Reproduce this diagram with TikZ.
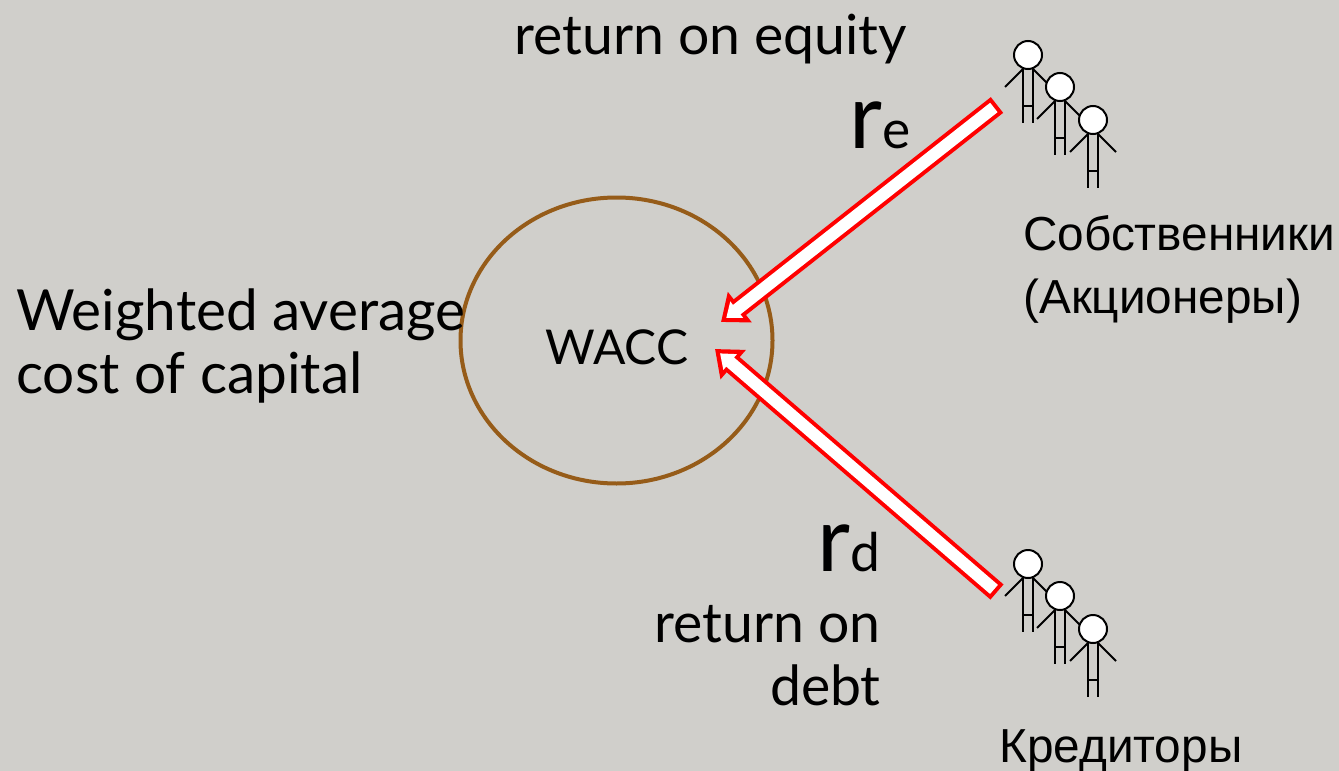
\documentclass[tikz,border=0pt]{standalone}
\usepackage{fontspec}
\setmainfont{Lato}
\newfontfamily\rusfont{Liberation Sans}
\usetikzlibrary{arrows.meta}
\definecolor{paper}{RGB}{208,207,203}
\definecolor{ringbrown}{RGB}{150,92,25}
\tikzset{
  label/.style={inner sep=0pt, font=\fontsize{41.5}{47}\selectfont, align=left},
  rlabel/.style={inner sep=0pt, font=\fontsize{41.5}{47}\selectfont, align=right},
  bigr/.style={inner sep=0pt, anchor=base east, font=\fontsize{68}{68}\selectfont},
  ruslabel/.style={inner sep=0pt, anchor=base west, align=left, font=\rusfont\fontsize{35.8}{47}\selectfont},
  redshaft/.style={draw=red, line width=15pt, -{Triangle[length=18pt, width=28pt]}, red},
  whiteshaft/.style={draw=white, line width=9pt, -{Triangle[length=10pt, width=15pt]}, white, shorten <=3pt, shorten >=5pt},
  stick/.style={line width=1.5pt, black},
  pics/person/.style={code={
    \draw[stick] (-5,14) -- (-23,32);
    \draw[stick] (5,14) -- (23,32);
    \draw[stick] (-5,14) -- (-5,68);
    \draw[stick] (5,14) -- (5,68);
    \draw[stick] (-5,51) -- (5,51);
    \draw[stick, fill=white] (0,0) circle (14);
  }},
  pics/crowd/.style={code={
    \pic at (0,0) {person};
    \pic at (32,32) {person};
    \pic at (65,65) {person};
  }}
}

\begin{document}
\begin{tikzpicture}[x=0.75pt,y=-0.75pt]
  \fill[paper] (0,0) rectangle (1339,771);
  \useasboundingbox (0,0) rectangle (1339,771);

  % ring
  \draw[ringbrown, line width=3pt] (616.5,340.5) ellipse (156 and 143);
  \node[inner sep=0pt, font=\fontsize{36}{40}\selectfont] (wacc) at (617,347) {WACC};

  % owners and lenders
  \pic at (1028,55) {crowd};
  \pic at (1028,564) {crowd};

  \coordinate (equityfrom) at (997,105);
  \coordinate (equityto) at (721,322);
  \coordinate (debtfrom) at (997,592);
  \coordinate (debtto) at (715,349);

  \draw[redshaft] (equityfrom) -- (equityto);
  \draw[whiteshaft] (equityfrom) -- (equityto);
  \draw[redshaft] (debtfrom) -- (debtto);
  \draw[whiteshaft] (debtfrom) -- (debtto);

  % texts
  \node[label, anchor=base west] (equityname) at (514,54) {return on equity};
  \node[label, anchor=base west, font=\fontsize{42.5}{47}\selectfont] (waccname) at (16,393) {Weighted average\\cost of capital};
  \node[bigr] (requity) at (911,148) {r\fontsize{40}{40}\selectfont e};
  \node[bigr] (rdebt) at (881,571) {r\fontsize{40}{40}\selectfont d};
  \node[rlabel, anchor=base east] (debtname) at (881,705) {return on\\debt};
  \node[ruslabel] (owners) at (1023,313) {Собственники\\(Акционеры)};
  \node[ruslabel] (lenders) at (999,762) {Кредиторы};
\end{tikzpicture}
\end{document}
